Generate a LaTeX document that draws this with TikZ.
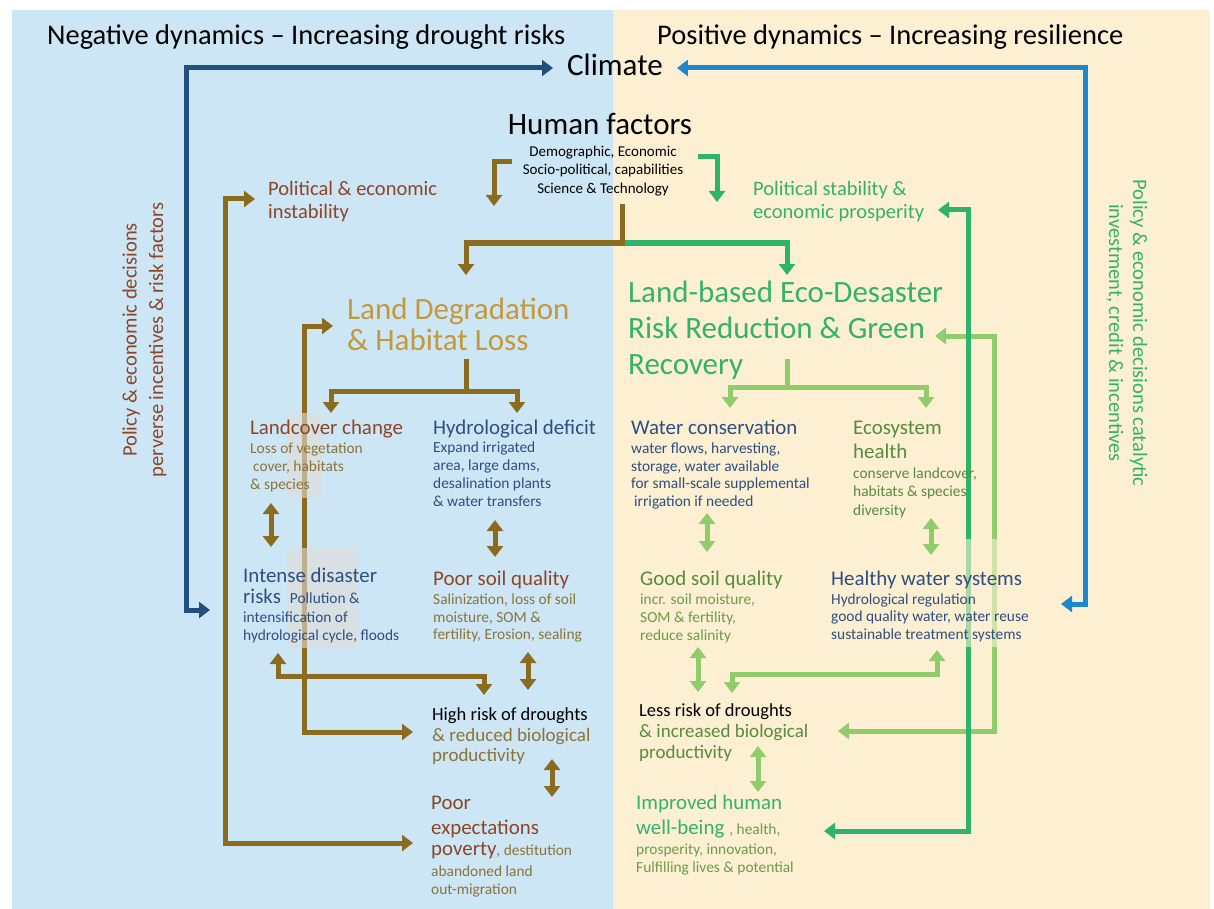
\documentclass[tikz,border=0pt]{standalone}
\usepackage{fontspec}
\setmainfont{Carlito}
\usetikzlibrary{arrows.meta,backgrounds}

\definecolor{bgLeft}{HTML}{CCE6F6}
\definecolor{bgRight}{HTML}{FDEFD2}
\definecolor{cNavy}{HTML}{22507E}
\definecolor{cSky}{HTML}{1E88CE}
\definecolor{cOchre}{HTML}{8B6C1E}
\definecolor{cLeaf}{HTML}{2EB36A}
\definecolor{cLime}{HTML}{90CC6B}
\definecolor{cMist}{HTML}{E0DCD8}
\definecolor{tRust}{HTML}{8C4527}
\definecolor{tGold}{HTML}{C3993A}
\definecolor{tOlive}{HTML}{8B7437}
\definecolor{tInk}{HTML}{2D4F80}
\definecolor{tGreen}{HTML}{33B36A}
\definecolor{tMoss}{HTML}{558C40}
\definecolor{tSage}{HTML}{6A9C4C}

% heading size inside the text blocks
\newcommand\blkhead{\fontsize{20.9}{24}\selectfont}

\tikzset{
  oneway/.style={line width=5pt, -{Triangle[width=16pt,length=11pt]}},
  twoway/.style={line width=5pt, {Triangle[width=16pt,length=11pt]}-{Triangle[width=16pt,length=11pt]}},
  blk/.style={inner sep=0pt, anchor=north west, align=left, font=\fontsize{15.4}{17.7}\selectfont},
  word/.style={inner sep=0pt, anchor=base west},
}

\begin{document}
\begin{tikzpicture}[x=1pt,y=-1pt]
  \useasboundingbox (0,0) rectangle (1214,909);

  % titles and drivers
  \node[word, font=\fontsize{28.5}{32}\selectfont] (negT) at (47,45) {Negative dynamics -- Increasing drought risks};
  \node[word, font=\fontsize{28.5}{32}\selectfont] (posT) at (657,45) {Positive dynamics -- Increasing resilience};
  \node[word, font=\fontsize{31}{36}\selectfont, inner xsep=14pt, text height=16pt, text depth=0pt] (climate) at (553,76) {Climate};
  \node[inner sep=0pt, anchor=base, font=\fontsize{31}{36}\selectfont] (human) at (600,135) {Human factors};
  \node[blk, anchor=north, align=center, font=\fontsize{15}{18.5}\selectfont] (humanSub) at (603,145.5)
    {Demographic, Economic\\Socio-political, capabilities\\Science \& Technology};

  \node[blk, text=tRust, font=\fontsize{20.5}{23.5}\selectfont] (instab) at (268,181) {Political \& economic\\instability};
  \node[blk, text=tGreen, font=\fontsize{20.5}{23.5}\selectfont] (stab) at (753,181) {Political stability \&\\economic prosperity};

  \node[blk, text=tGold, font=\fontsize{31}{31}\selectfont] (degr) at (347,297.5) {Land Degradation\\\& Habitat Loss};
  \node[blk, text=tGreen, font=\fontsize{31}{36}\selectfont] (ecodrr) at (628,280.5) {Land-based Eco-Desaster\\Risk Reduction \& Green\\Recovery};

  % negative side blocks
  \node[blk, text=tOlive] (landcover) at (250,420)
    {\textcolor{tRust}{\blkhead Landcover change}\\[1.5pt]Loss of vegetation\\\hspace*{3pt}cover, habitats\\\& species};
  \node[blk, text=tInk] (hydro) at (433,420)
    {{\blkhead Hydrological deficit}\\[0.5pt]Expand irrigated\\area, large dams,\\desalination plants\\\& water transfers};
  \node[blk, text=tInk, font=\fontsize{15.4}{18.7}\selectfont] (disaster) at (243,567.5)
    {{\blkhead Intense disaster}\\[2.5pt]{\blkhead risks}\hspace{9pt}Pollution \&\\intensification of\\hydrological cycle, floods};
  \node[blk, text=tOlive] (poorsoil) at (433,571)
    {\textcolor{tRust}{\blkhead Poor soil quality}\\[1pt]Salinization, loss of soil\\moisture, SOM \&\\fertility, Erosion, sealing};
  \node[blk, text=tOlive, font=\fontsize{19}{20.7}\selectfont] (highrisk) at (432,707.5)
    {\textcolor{black}{\fontsize{18.5}{20.7}\selectfont High risk of droughts}\\\& reduced biological\\productivity};
  \node[blk, text=tOlive] (poverty) at (431,795.7)
    {\textcolor{tRust}{\blkhead Poor}\\[7pt]\textcolor{tRust}{\blkhead expectations}\\[4pt]\textcolor{tRust}{\blkhead poverty}, destitution\\[3.5pt]abandoned land\\out-migration};

  % positive side blocks
  \node[blk, text=tInk] (watcon) at (631,420)
    {{\blkhead Water conservation}\\[1pt]water flows, harvesting,\\storage, water available\\for small-scale supplemental\\\hspace*{3pt}irrigation if needed};
  \node[blk, text=tMoss, font=\fontsize{15.4}{18.7}\selectfont] (ecohealth) at (853,421)
    {{\blkhead Ecosystem}\\[5.5pt]{\blkhead health}\\[0.5pt]conserve landcover,\\habitats \& species\\diversity};
  \node[blk, text=tSage] (goodsoil) at (640,570.7)
    {\textcolor{tMoss}{\blkhead Good soil quality}\\[1.5pt]incr. soil moisture,\\SOM \& fertility,\\reduce salinity};
  \node[blk, text=tInk] (healthy) at (831,570.7)
    {{\blkhead Healthy water systems}\\[1pt]Hydrological regulation\\good quality water, water reuse\\sustainable treatment systems};
  \node[blk, text=tMoss, font=\fontsize{19}{20.7}\selectfont] (lessrisk) at (639,703.7)
    {\textcolor{black}{\fontsize{18.5}{20.7}\selectfont Less risk of droughts}\\\& increased biological\\productivity};
  \node[blk, text=tSage] (wellbeing) at (636,794.7)
    {\textcolor{tGreen}{\blkhead Improved human}\\[6pt]\textcolor{tGreen}{\blkhead well-being}\hspace{5pt}, health,\\[2.5pt]prosperity, innovation,\\Fulfilling lives \& potential};

  % policy labels on the sides
  \node[rotate=90, align=center, text=tRust, font=\fontsize{20.5}{26.5}\selectfont] (leftPolicy) at (144.5,340)
    {Policy \& economic decisions\\perverse incentives \& risk factors};
  \node[rotate=-90, align=center, text=tGreen, font=\fontsize{20.5}{24}\selectfont] (rightPolicy) at (1127,333)
    {Policy \& economic decisions catalytic\\investment, credit \& incentives};

  % bends and free ends of the connectors
  \coordinate (navyBend) at (186,610);
  \coordinate (disasterIn) at (210,610);
  \coordinate (skyBend) at (1085,604);
  \coordinate (healthyIn) at (1061,604);
  \coordinate (instabIn) at (255,199);
  \coordinate (outerBend) at (225,843);
  \coordinate (povertyIn) at (413,843);
  \coordinate (degrIn) at (333,326);
  \coordinate (innerBend) at (304,732);
  \coordinate (highriskIn) at (413,732);
  \coordinate (hfLeft) at (512,162);
  \coordinate (hfLeftEnd) at (494,206);
  \coordinate (hfRight) at (698,157);
  \coordinate (hfRightEnd) at (717,202);
  \coordinate (hfStem) at (622,204);
  \coordinate (hfFork) at (622,243);
  \coordinate (degrTop) at (466,275);
  \coordinate (ecodrrTop) at (787,275);
  \coordinate (degrStem) at (466,359);
  \coordinate (degrFork) at (466,391);
  \coordinate (landcoverTop) at (331,413);
  \coordinate (hydroTop) at (517,413);
  \coordinate (ecoStem) at (787,359);
  \coordinate (ecoFork) at (787,387);
  \coordinate (watconTop) at (730,408);
  \coordinate (ecohealthTop) at (926,408);
  \coordinate (disasterOut) at (278,653);
  \coordinate (lowFork) at (484,676);
  \coordinate (highriskTop) at (484,695);
  \coordinate (healthyOut) at (937,650);
  \coordinate (limeFork) at (732,674);
  \coordinate (lessriskTop) at (732,693);
  \coordinate (ecodrrIn) at (935,336);
  \coordinate (limeBend) at (994,731);
  \coordinate (lessriskIn) at (838,731);
  \coordinate (stabIn) at (938,210);
  \coordinate (leafBend) at (968,831);
  \coordinate (wellbeingIn) at (824,831);
  \coordinate (lcA) at (271,503);
  \coordinate (lcB) at (271,547);
  \coordinate (hyA) at (495,520);
  \coordinate (hyB) at (495,557);
  \coordinate (psA) at (528,652);
  \coordinate (psB) at (528,690);
  \coordinate (hrA) at (552,759);
  \coordinate (hrB) at (552,797);
  \coordinate (wcA) at (707,513);
  \coordinate (wcB) at (707,552);
  \coordinate (ehA) at (931,518);
  \coordinate (ehB) at (931,555);
  \coordinate (gsA) at (698,647);
  \coordinate (gsB) at (698,692);
  \coordinate (lrA) at (758,746);
  \coordinate (lrB) at (758,792);

  \begin{scope}[on background layer]
    % the two halves
    \fill[bgLeft] (12,10) rectangle (613,909);
    \fill[bgRight] (613,10) rectangle (1210,909);

    % climate loops
    \draw[twoway, cNavy] (climate.west) -| (navyBend) -- (disasterIn);
    \draw[twoway, cSky] (climate.east) -| (skyBend) -- (healthyIn);

    % human factors
    \draw[oneway, cOchre] (hfLeft) -| (hfLeftEnd);
    \draw[oneway, cLeaf] (hfRight) -| (hfRightEnd);
    \draw[oneway, cLeaf] (hfFork) -| (ecodrrTop);
    \draw[oneway, cOchre] (hfStem) -- (hfFork) -| (degrTop);

    % negative side
    \draw[twoway, cOchre] (instabIn) -| (outerBend) -- (povertyIn);
    \draw[twoway, cOchre] (degrIn) -| (innerBend) -- (highriskIn);
    \draw[oneway, cOchre] (degrStem) -- (degrFork) -| (landcoverTop);
    \draw[oneway, cOchre] (degrFork) -| (hydroTop);
    \draw[twoway, cOchre] (lcA) -- (lcB);
    \draw[twoway, cOchre] (hyA) -- (hyB);
    \draw[twoway, cOchre] (psA) -- (psB);
    \draw[twoway, cOchre] (hrA) -- (hrB);
    \draw[twoway, cOchre] (disasterOut) |- (lowFork) -- (highriskTop);

    % positive side
    \draw[oneway, cLime] (ecoStem) -- (ecoFork) -| (watconTop);
    \draw[oneway, cLime] (ecoFork) -| (ecohealthTop);
    \draw[twoway, cLime] (wcA) -- (wcB);
    \draw[twoway, cLime] (ehA) -- (ehB);
    \draw[twoway, cLime] (gsA) -- (gsB);
    \draw[twoway, cLime] (lrA) -- (lrB);
    \draw[twoway, cLime] (healthyOut) |- (limeFork) -- (lessriskTop);
    \draw[twoway, cLime] (ecodrrIn) -| (limeBend) -- (lessriskIn);
    \draw[twoway, cLeaf] (stabIn) -| (leafBend) -- (wellbeingIn);

    % pale patches over the lines
    \fill[cMist, opacity=.6] (287,413) rectangle (322,498);
    \fill[cMist, opacity=.6] (287,548) rectangle (358,648);
    \fill[bgRight, opacity=.6] (955,539) rectangle (1002,647);
  \end{scope}
\end{tikzpicture}
\end{document}
